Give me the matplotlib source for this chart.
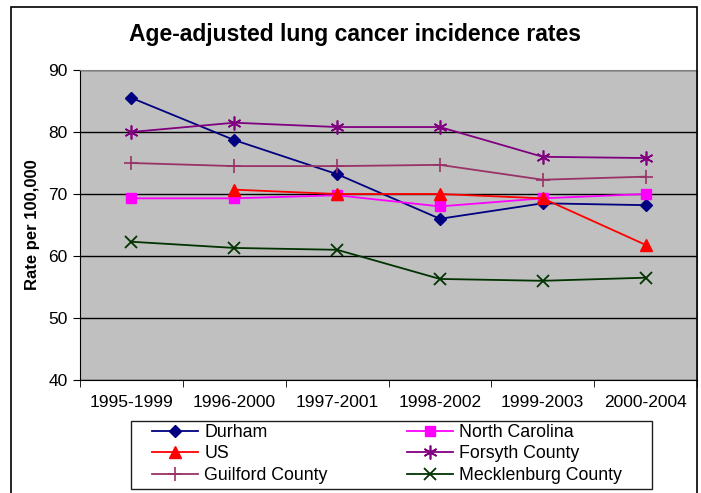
import matplotlib.pyplot as plt
import matplotlib.patches as mpatches
import numpy as np

plt.rcParams['font.family'] = ['Liberation Sans', 'DejaVu Sans']

periods = ["1995-1999", "1996-2000", "1997-2001", "1998-2002", "1999-2003", "2000-2004"]
durham = [85.5, 78.7, 73.2, 66.0, 68.5, 68.2]
north_carolina = [69.3, 69.3, 69.8, 68.0, 69.3, 70.0]
us = [np.nan, 70.7, 70.0, 70.0, 69.3, 61.8]
forsyth = [80.0, 81.5, 80.8, 80.8, 76.0, 75.8]
guilford = [75.0, 74.5, 74.5, 74.7, 72.3, 72.8]
mecklenburg = [62.3, 61.3, 61.0, 56.3, 56.0, 56.5]

W, H = 701, 493
fig = plt.figure(figsize=(W / 100, H / 100), dpi=100)
ax = fig.add_axes([80 / W, 1 - 380 / H, 617 / W, 310 / H])
ax.set_facecolor("#C0C0C0")

x = np.arange(len(periods))
h_durham, = ax.plot(x, durham, color="#000080", marker="D", markersize=6.5, lw=1.3, label="Durham")
h_nc, = ax.plot(x, north_carolina, color="#FF00FF", marker="s", markersize=7, lw=1.3, label="North Carolina")
h_us, = ax.plot(x, us, color="#FF0000", marker="^", markersize=9, lw=1.3, label="US")
h_for, = ax.plot(x, forsyth, color="#800080", marker=(6, 2, 0), markersize=10, mew=1.2, lw=1.3, label="Forsyth County")
h_gui, = ax.plot(x, guilford, color="#993366", marker="+", markersize=10, mew=1.2, lw=1.3, label="Guilford County")
h_mec, = ax.plot(x, mecklenburg, color="#003300", marker="x", markersize=8, mew=1.3, lw=1.3, label="Mecklenburg County")

ax.set_xlim(-0.5, 5.5)
ax.set_ylim(40, 90)
ax.set_yticks([40, 50, 60, 70, 80, 90])
ax.set_xticks(x)
ax.set_xticklabels(periods)
ax.set_xticks(np.arange(-0.5, 6, 1), minor=True)
ax.tick_params(axis="x", which="major", length=0, labelsize=12.5, pad=11)
ax.tick_params(axis="x", which="minor", length=5, direction="out")
ax.tick_params(axis="y", labelsize=12.5, length=5, direction="out", pad=4)
ax.grid(axis="y", color="black", lw=1)
ax.set_axisbelow(True)
for s in ["top", "right"]:
    ax.spines[s].set_color("#808080")
ax.spines["left"].set_color("black")
ax.spines["bottom"].set_color("black")

ax.set_ylabel("Rate per 100,000", fontsize=12, fontweight="bold", labelpad=6)
fig.text(355 / W, 1 - 35 / H, "Age-adjusted lung cancer incidence rates", ha="center", va="center",
         fontsize=16.5, fontweight="bold")

# legend box drawn by hand, two columns as separate legends
fig.patches.append(mpatches.Rectangle((131 / W, 1 - 489 / H), 521 / W, 68 / H, transform=fig.transFigure,
                                      fill=False, edgecolor="#202020", lw=1))
leg_kw = dict(frameon=False, fontsize=12.8, handlelength=2.6, handletextpad=0.35,
              borderpad=0, borderaxespad=0, labelspacing=0.25, loc="upper left")
fig.legend(handles=[h_durham, h_us, h_gui], bbox_to_anchor=(152 / W, 1 - 424 / H), **leg_kw)
fig.legend(handles=[h_nc, h_for, h_mec], bbox_to_anchor=(407 / W, 1 - 424 / H), **leg_kw)

# outer chart border
fig.patches.append(mpatches.Rectangle((11 / W, -0.05), 686 / W, 1.05 - 7 / H, transform=fig.transFigure,
                                      fill=False, edgecolor="black", lw=1.2))

fig.savefig("out.png", dpi=100)
